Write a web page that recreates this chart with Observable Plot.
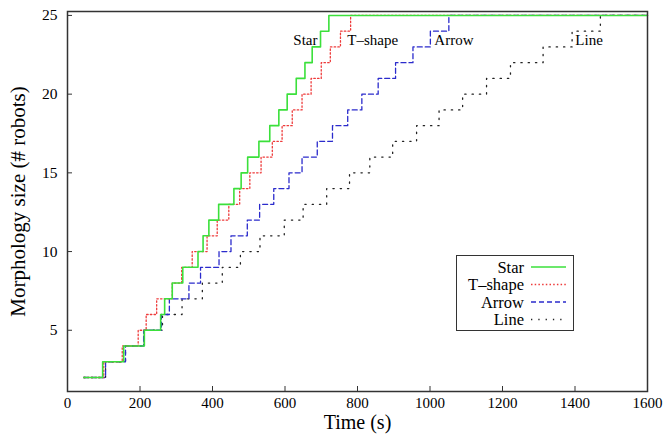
<!DOCTYPE html>
<html><head><meta charset="utf-8">
<script src="https://cdn.jsdelivr.net/npm/d3@7"></script>
<script src="https://cdn.jsdelivr.net/npm/@observablehq/plot@0.6"></script>
<style>
body{margin:0;background:#fff;}
#wrap{position:relative;width:667px;height:439px;font-family:"Liberation Serif","Times New Roman",serif;}
#legend{position:absolute;left:456px;top:255px;}
</style></head><body><div id="wrap"></div>
<script>
// Data
const seriesNames = ["Star", "T\u2013shape", "Arrow", "Line"];
const sizes = [2,3,4,5,6,7,8,9,10,11,12,13,14,15,16,17,18,19,20,21,22,23,24,25];
const starTimes   = [45,97,155,212,257,268,289,318,360,374,390,417,459,479,497,528,558,583,606,631,655,675,698,721];
const tshapeTimes = [45,100,151,195,217,246,289,315,344,385,413,445,475,503,534,565,592,620,647,672,700,725,753,781];
const arrowTimes  = [45,105,160,210,259,281,335,367,418,451,496,530,569,611,647,689,731,773,812,857,905,953,1001,1052];
const lineTimes   = [45,105,160,212,262,316,372,427,477,531,598,650,715,778,834,897,963,1025,1090,1156,1222,1312,1392,1470];
const endTime = 1600;
const xTicks = [0,200,400,600,800,1000,1200,1400,1600];
const yTicks = [5,10,15,20,25];
// In-plot annotation anchors (time, size)
const labelTimes = [623, 772, 1012, 1401];
const labelSizes = [23.45, 23.45, 23.45, 23.45];

const timesBySeries = [starTimes, tshapeTimes, arrowTimes, lineTimes];
const styles = [
  {stroke: "#3be03b", strokeWidth: 1.6, strokeDasharray: null},
  {stroke: "#ee3b3b", strokeWidth: 1.3, strokeDasharray: "1.5,2.2"},
  {stroke: "#2b2bcc", strokeWidth: 1.3, strokeDasharray: "5,3"},
  {stroke: "#222222", strokeWidth: 1.3, strokeDasharray: "1.3,6"}
];

const rowsFor = (i) => {
  const r = timesBySeries[i].map((t, j) => ({series: seriesNames[i], t, v: sizes[j]}));
  r.push({series: seriesNames[i], t: endTime, v: sizes[sizes.length - 1]});
  return r;
};

const labels = seriesNames.map((s, i) => ({s, t: labelTimes[i], v: labelSizes[i]}));
const font = "Liberation Serif, Times New Roman, serif";

const chart = Plot.plot({
  width: 667, height: 439,
  marginLeft: 67, marginRight: 20, marginTop: 11, marginBottom: 48,
  style: {fontFamily: font, fontSize: "15px", color: "#000", background: "#fff", overflow: "visible"},
  x: {domain: [0, 1600]},
  y: {domain: [1.11, 25.25]},
  marks: [
    ...[3, 2, 1, 0].map(i => Plot.line(rowsFor(i), {
      x: "t", y: "v", curve: "step-after", ...Object.fromEntries(Object.entries(styles[i]).filter(([k, v]) => v != null))
    })),
    Plot.frame({stroke: "#333", strokeWidth: 1.5}),
    Plot.axisX(xTicks, {tickSize: -5, tickPadding: 11, tickFormat: d => String(d), label: null, fontSize: 15, stroke: "#333", fill: "#000"}),
    Plot.axisY(yTicks, {tickSize: -5, tickPadding: 15, tickFormat: d => String(d), label: null, fontSize: 15.5, stroke: "#333", fill: "#000"}),
    Plot.text(labels, {x: "t", y: "v", text: "s", textAnchor: "start", fontSize: 15, fill: "#000"}),
    Plot.text(["Time (s)"], {text: d => d, frameAnchor: "bottom", textAnchor: "middle", dy: 37, fontSize: 20, fill: "#000"}),
    Plot.text(["Morphology size (# robots)"], {text: d => d, frameAnchor: "left", textAnchor: "middle", rotate: -90, dx: -49, fontSize: 21, fill: "#000"})
  ]
});
const wrap = document.getElementById("wrap");
wrap.appendChild(chart);

// Legend box
const ns = "http://www.w3.org/2000/svg";
const lg = document.createElementNS(ns, "svg");
lg.setAttribute("id", "legend");
lg.setAttribute("width", 119);
lg.setAttribute("height", 77);
const box = document.createElementNS(ns, "rect");
box.setAttribute("x", 0.5); box.setAttribute("y", 0.5);
box.setAttribute("width", 117); box.setAttribute("height", 75);
box.setAttribute("fill", "#fff"); box.setAttribute("stroke", "#333"); box.setAttribute("stroke-width", 1);
lg.appendChild(box);
seriesNames.forEach((s, i) => {
  const cy = 12 + i * 17.5;
  const t = document.createElementNS(ns, "text");
  t.setAttribute("x", 68); t.setAttribute("y", cy);
  t.setAttribute("dy", "0.35em");
  t.setAttribute("text-anchor", "end");
  t.setAttribute("font-family", font);
  t.setAttribute("font-size", 16.5);
  t.textContent = s;
  lg.appendChild(t);
  const l = document.createElementNS(ns, "line");
  l.setAttribute("x1", 75); l.setAttribute("x2", 110);
  l.setAttribute("y1", cy); l.setAttribute("y2", cy);
  l.setAttribute("stroke", styles[i].stroke);
  l.setAttribute("stroke-width", styles[i].strokeWidth);
  if (styles[i].strokeDasharray) l.setAttribute("stroke-dasharray", styles[i].strokeDasharray);
  lg.appendChild(l);
});
wrap.appendChild(lg);
</script>
</body></html>
